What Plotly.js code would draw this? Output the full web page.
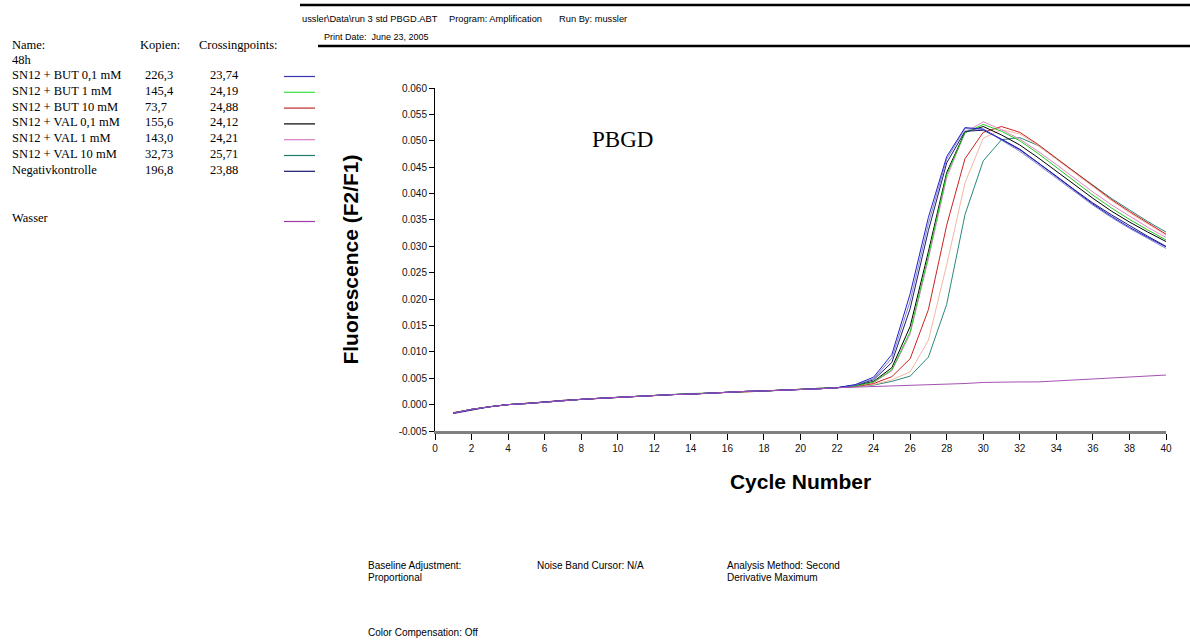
<!DOCTYPE html>
<html>
<head>
<meta charset="utf-8">
<script src="https://cdn.plot.ly/plotly-3.0.1.min.js"></script>
<style>
html,body{margin:0;padding:0;background:#fff;}
#chart{width:1190px;height:643px;}
</style>
</head>
<body>
<div id="chart"></div>
<script>
// ---------- data ----------
var cycles = [1,2,3,4,5,6,7,8,9,10,11,12,13,14,15,16,17,18,19,20,21,22,23,24,25,26,27,28,29,30,31,32,33,34,35,36,37,38,39,40];

var but01 = [-0.0016,-0.0009,-0.0004,0.0000,0.0002,0.0005,0.0008,0.0010,0.0012,0.0014,0.0016,0.0017,0.0019,0.0020,0.0022,0.0023,0.0025,0.0026,0.0027,0.0029,0.0030,0.0032,0.0038,0.0052,0.0095,0.0210,0.0355,0.0470,0.0525,0.0522,0.0503,0.0483,0.0458,0.0432,0.0405,0.0380,0.0357,0.0336,0.0317,0.0299];
var but1  = [-0.0016,-0.0009,-0.0004,0.0000,0.0002,0.0005,0.0008,0.0010,0.0012,0.0014,0.0016,0.0017,0.0019,0.0021,0.0022,0.0023,0.0025,0.0026,0.0027,0.0029,0.0030,0.0032,0.0035,0.0043,0.0066,0.0138,0.0282,0.0436,0.0515,0.0531,0.0518,0.0500,0.0476,0.0450,0.0423,0.0397,0.0373,0.0351,0.0331,0.0312];
var but10 = [-0.0015,-0.0009,-0.0004,0.0000,0.0002,0.0005,0.0008,0.0010,0.0012,0.0014,0.0016,0.0017,0.0019,0.0020,0.0022,0.0023,0.0024,0.0026,0.0027,0.0029,0.0030,0.0032,0.0034,0.0040,0.0053,0.0087,0.0180,0.0340,0.0466,0.0516,0.0527,0.0516,0.0493,0.0467,0.0441,0.0414,0.0389,0.0366,0.0344,0.0323];
var val01 = [-0.0016,-0.0009,-0.0004,0.0000,0.0002,0.0005,0.0008,0.0010,0.0012,0.0014,0.0016,0.0017,0.0019,0.0020,0.0022,0.0023,0.0025,0.0026,0.0027,0.0029,0.0031,0.0032,0.0036,0.0044,0.0070,0.0148,0.0290,0.0440,0.0516,0.0527,0.0511,0.0492,0.0468,0.0442,0.0416,0.0391,0.0367,0.0346,0.0327,0.0309];
var val1  = [-0.0016,-0.0009,-0.0004,0.0000,0.0002,0.0005,0.0008,0.0010,0.0012,0.0014,0.0016,0.0017,0.0019,0.0020,0.0022,0.0023,0.0025,0.0026,0.0027,0.0029,0.0030,0.0032,0.0035,0.0042,0.0064,0.0134,0.0276,0.0430,0.0516,0.0536,0.0521,0.0503,0.0480,0.0455,0.0429,0.0403,0.0379,0.0357,0.0336,0.0317];
var val10 = [-0.0016,-0.0009,-0.0004,0.0000,0.0002,0.0005,0.0008,0.0010,0.0012,0.0014,0.0016,0.0017,0.0019,0.0020,0.0022,0.0023,0.0025,0.0026,0.0027,0.0029,0.0030,0.0032,0.0034,0.0037,0.0044,0.0054,0.0090,0.0190,0.0360,0.0462,0.0502,0.0506,0.0491,0.0466,0.0441,0.0415,0.0391,0.0369,0.0347,0.0327];
var negk  = [-0.0017,-0.0010,-0.0004,0.0000,0.0002,0.0005,0.0008,0.0010,0.0012,0.0014,0.0016,0.0017,0.0019,0.0020,0.0022,0.0023,0.0025,0.0026,0.0027,0.0029,0.0030,0.0032,0.0037,0.0047,0.0080,0.0182,0.0330,0.0458,0.0518,0.0520,0.0503,0.0484,0.0459,0.0433,0.0407,0.0382,0.0360,0.0339,0.0319,0.0300];
var unlabA= [-0.0016,-0.0009,-0.0004,0.0000,0.0002,0.0005,0.0008,0.0010,0.0012,0.0014,0.0016,0.0017,0.0019,0.0020,0.0022,0.0023,0.0025,0.0026,0.0027,0.0029,0.0030,0.0032,0.0037,0.0049,0.0088,0.0196,0.0343,0.0465,0.0523,0.0522,0.0501,0.0480,0.0455,0.0429,0.0403,0.0378,0.0355,0.0334,0.0315,0.0296];
var unlabB= [-0.0016,-0.0009,-0.0004,0.0000,0.0002,0.0005,0.0008,0.0010,0.0012,0.0014,0.0016,0.0017,0.0019,0.0020,0.0022,0.0023,0.0025,0.0026,0.0027,0.0029,0.0030,0.0032,0.0034,0.0038,0.0047,0.0062,0.0122,0.0265,0.0420,0.0505,0.0521,0.0513,0.0491,0.0465,0.0439,0.0412,0.0387,0.0364,0.0342,0.0321];
var wasser= [-0.0016,-0.0009,-0.0004,0.0000,0.0002,0.0005,0.0008,0.0010,0.0012,0.0014,0.0016,0.0017,0.0019,0.0020,0.0022,0.0023,0.0025,0.0026,0.0027,0.0029,0.0030,0.0032,0.0033,0.0034,0.0035,0.0036,0.0037,0.0038,0.0040,0.0042,0.0043,0.0043,0.0043,0.0045,0.0047,0.0048,0.0050,0.0052,0.0054,0.0056];

var sampleNames = ["SN12 + BUT 0,1 mM","SN12 + BUT 1 mM","SN12 + BUT 10 mM","SN12 + VAL 0,1 mM","SN12 + VAL 1 mM","SN12 + VAL 10 mM","Negativkontrolle"];
var kopien      = ["226,3","145,4","73,7","155,6","143,0","32,73","196,8"];
var crossing    = ["23,74","24,19","24,88","24,12","24,21","25,71","23,88"];
var legendColors= ["#3434b4","#3ce03c","#c02a2a","#000000","#d67cc4","#1e7a6a","#16166a"];
var wasserName  = "Wasser";
var wasserColor = "#9a3ca4";

var xTicks = [0,2,4,6,8,10,12,14,16,18,20,22,24,26,28,30,32,34,36,38,40];
var yTickVals = [-0.005,0,0.005,0.01,0.015,0.02,0.025,0.03,0.035,0.04,0.045,0.05,0.055,0.06];
var yTickText = ["-0.005","0.000","0.005","0.010","0.015","0.020","0.025","0.030","0.035","0.040","0.045","0.050","0.055","0.060"];

// ---------- geometry ----------
var W = 1190, H = 643;
var M = {l:435, r:24, t:88, b:212};
var PW = W - M.l - M.r, PH = H - M.t - M.b;
function px(x){ return (x - M.l) / PW; }
function py(y){ return (H - M.b - y) / PH; }

// ---------- traces ----------
var curveSpecs = [
  {y: val10, color: "#2a8a7a", name: sampleNames[5]},
  {y: unlabB, color: "#f2b8a4", name: "unlabelled"},
  {y: but10, color: "#cc2222", name: sampleNames[2]},
  {y: val1, color: "#e284c8", name: sampleNames[4]},
  {y: val01, color: "#000000", name: sampleNames[3]},
  {y: but1, color: "#22cc22", name: sampleNames[1]},
  {y: negk, color: "#1c1c70", name: sampleNames[6]},
  {y: unlabA, color: "#8484cc", name: "unlabelled"},
  {y: but01, color: "#2222cc", name: sampleNames[0]},
  {y: wasser, color: "#a650b4", name: wasserName}
];
var traces = curveSpecs.map(function(s){
  return {x: cycles, y: s.y, type: "scatter", mode: "lines", name: s.name,
          line: {color: s.color, width: 1}, showlegend: false, hoverinfo: "skip"};
});

// ---------- annotations / shapes ----------
var ann = [];
var shapes = [];
var serif = "Liberation Serif, Times New Roman, serif";
var sans = "Liberation Sans, Arial, sans-serif";
function txt(x, y, t, size, family, extra){
  var a = {xref:"paper", yref:"paper", x:px(x), y:py(y), text:t, showarrow:false,
           xanchor:"left", yanchor:"middle", font:{family:family, size:size, color:"#000"}};
  if (extra) for (var k in extra) a[k] = extra[k];
  ann.push(a);
}
function hline(x0, x1, y, color, width){
  shapes.push({type:"line", xref:"paper", yref:"paper", x0:px(x0), x1:px(x1), y0:py(y), y1:py(y),
               line:{color:color, width:width}});
}

// header
hline(300, 1190, 5, "#000", 2.5);
hline(318, 1190, 46, "#000", 2.5);
txt(300, 19, "ussler\\Data\\run 3 std PBGD.ABT", 9.3, sans);
txt(447, 19, "Program: Amplification", 9.3, sans);
txt(557, 19, "Run By: mussler", 9.3, sans);
txt(322, 37, "Print Date:&nbsp;&nbsp;June 23, 2005", 9, sans);

// sample table
var fs = 12.5;
txt(10, 45, "Name:", fs, serif);
txt(138, 45, "Kopien:", fs, serif);
txt(197, 45, "Crossingpoints:", fs, serif);
txt(10, 60, "48h", fs, serif);
for (var i = 0; i < sampleNames.length; i++){
  var ry = 75 + i * 15.8;
  txt(10, ry, sampleNames[i], fs, serif);
  txt(143, ry, kopien[i], fs, serif);
  txt(208, ry, crossing[i], fs, serif);
  hline(284, 315, ry + 1.5, legendColors[i], 1.2);
}
txt(10, 218, wasserName, fs, serif);
hline(284, 315, 221.5, wasserColor, 1.2);

// chart label
txt(622, 139, "PBGD", 23, serif, {xanchor:"center"});

// footer
txt(366, 565, "Baseline Adjustment:", 10, sans);
txt(366, 577, "Proportional", 10, sans);
txt(535, 565, "Noise Band Cursor: N/A", 10, sans);
txt(725, 565, "Analysis Method: Second", 10, sans);
txt(725, 577, "Derivative Maximum", 10, sans);
txt(366, 632, "Color Compensation: Off", 10, sans);

var layout = {
  width: W, height: H,
  margin: M,
  paper_bgcolor: "#fff", plot_bgcolor: "#fff",
  showlegend: false,
  xaxis: {
    range: [0, 40], tickvals: xTicks, ticks: "outside", ticklen: 6, tickcolor: "#000", tickwidth: 1,
    showline: true, linecolor: "#808080", linewidth: 3, showgrid: false, zeroline: false,
    tickfont: {family: sans, size: 10, color: "#111"},
    title: {text: "Cycle Number", font: {family: sans, size: 21, color: "#000", weight: "bold"}, standoff: 22}
  },
  yaxis: {
    range: [-0.005, 0.06], tickvals: yTickVals, ticktext: yTickText, ticks: "outside", ticklen: 5,
    tickcolor: "#000", tickwidth: 1, showline: true, linecolor: "#000", linewidth: 1,
    showgrid: false, zeroline: false,
    tickfont: {family: sans, size: 10, color: "#111"},
    title: {text: "Fluorescence (F2/F1)", font: {family: sans, size: 21, color: "#000", weight: "bold"}, standoff: 34}
  },
  annotations: ann,
  shapes: shapes
};

Plotly.newPlot("chart", traces, layout, {displayModeBar: false, staticPlot: true});
</script>
</body>
</html>
